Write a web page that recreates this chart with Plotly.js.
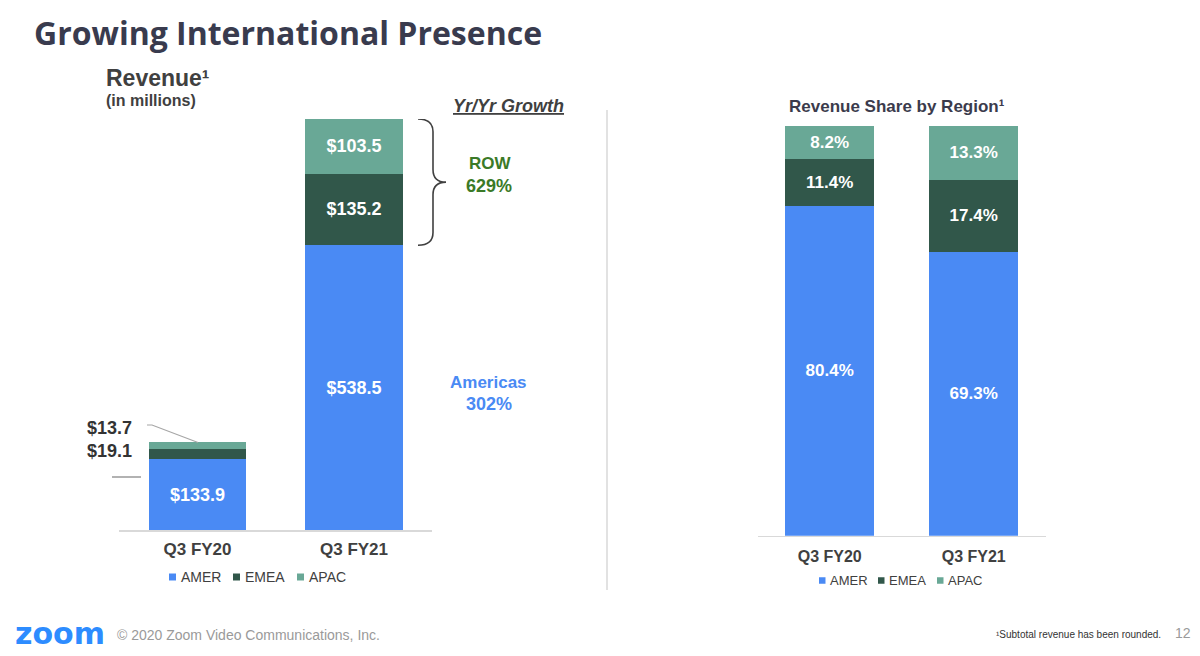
<!DOCTYPE html>
<html>
<head>
<meta charset="utf-8">
<script src="https://cdn.plot.ly/plotly-3.0.1.min.js"></script>
<style>html,body{margin:0;padding:0;background:#fff;}#chart{width:1200px;height:656px;}</style>
</head>
<body>
<div id="chart"></div>
<script>
// ---- data ----
const categories = ['Q3 FY20', 'Q3 FY21'];
const seriesNames = ['AMER', 'EMEA', 'APAC'];
const amerRevenue = [133.9, 538.5];
const emeaRevenue = [19.1, 135.2];
const apacRevenue = [13.7, 103.5];
const amerShare = [80.4, 69.3];
const emeaShare = [11.4, 17.4];
const apacShare = [8.2, 13.3];
const growthRow = '629%';
const growthAmericas = '302%';

// ---- styles ----
const colors = {AMER: '#4a8af4', EMEA: '#31574a', APAC: '#69a896'};
const FONT = 'Liberation Sans, Arial, Helvetica, sans-serif';
const W = 1200, H = 656;
const px = x => x / W;
const py = y => 1 - y / H;

const totals = categories.map((c, i) => amerRevenue[i] + emeaRevenue[i] + apacRevenue[i]);
const maxTotal = Math.max(...totals);

const revLabel = v => '$' + v.toFixed(1);
const shareLabel = v => v.toFixed(1) + '%';

const revSeries = [amerRevenue, emeaRevenue, apacRevenue];
const shareSeries = [amerShare, emeaShare, apacShare];

const traces = [];
seriesNames.forEach((name, k) => {
  traces.push({
    type: 'bar', name: name, x: categories, y: revSeries[k],
    xaxis: 'x', yaxis: 'y',
    marker: {color: colors[name], line: {width: 0}},
    text: revSeries[k].map(revLabel),
    textposition: revSeries[k].map(v => (v >= 50 ? 'inside' : 'none')),
    insidetextanchor: 'middle', constraintext: 'none',
    textfont: {family: FONT, size: 18, color: '#ffffff', weight: 'bold'},
    hoverinfo: 'skip', showlegend: false
  });
});
seriesNames.forEach((name, k) => {
  traces.push({
    type: 'bar', name: name, x: categories, y: shareSeries[k],
    xaxis: 'x2', yaxis: 'y2',
    marker: {color: colors[name], line: {width: 0}},
    text: shareSeries[k].map(shareLabel),
    textposition: 'inside', insidetextanchor: 'middle', constraintext: 'none',
    textfont: {family: FONT, size: 17, color: '#ffffff', weight: 'bold'},
    hoverinfo: 'skip', showlegend: false
  });
});

function ann(text, x, y, size, o) {
  o = o || {};
  return Object.assign({
    text: text, x: px(x), y: py(y), xref: 'paper', yref: 'paper',
    showarrow: false, xanchor: 'center', yanchor: 'middle',
    font: {family: FONT, size: size, color: o.color || '#404040', weight: o.weight || 'normal', style: o.style || 'normal'}
  }, o.extra || {});
}

const annotations = [
  ann('Growing International Presence', 32, 33, 32, {extra: {xanchor: 'left', font: {family: 'Open Sans, sans-serif', size: 32, color: '#393b4e', weight: 'bold'}}}),
  ann('Revenue¹', 104, 78, 23, {color: '#404040', weight: 'bold', extra: {xanchor: 'left'}}),
  ann('(in millions)', 104, 100, 16, {color: '#404040', weight: 'bold', extra: {xanchor: 'left'}}),
  ann('<u>Yr/Yr Growth</u>', 508, 106, 18, {color: '#404040', weight: 'bold', style: 'italic'}),
  ann('ROW', 490, 163, 17, {color: '#3b7a27', weight: 'bold'}),
  ann(growthRow, 489, 186, 18, {color: '#3b7a27', weight: 'bold'}),
  ann('Americas', 489, 382, 17, {color: colors.AMER, weight: 'bold'}),
  ann(growthAmericas, 489, 404, 18, {color: colors.AMER, weight: 'bold'}),
  ann(revLabel(apacRevenue[0]), 110, 428, 18, {color: '#333333', weight: 'bold'}),
  ann(revLabel(emeaRevenue[0]), 110, 451, 18, {color: '#333333', weight: 'bold'}),
  ann('Revenue Share by Region¹', 897, 107, 17, {color: '#3b3b4c', weight: 'bold'}),
  ann('zoom', 13, 633, 30, {extra: {xanchor: 'left', font: {family: 'DejaVu Sans, sans-serif', size: 30, color: '#2d8cff', weight: 'bold'}}}),
  ann('© 2020 Zoom Video Communications, Inc.', 115, 635, 14, {color: '#9a9a9a', extra: {xanchor: 'left'}}),
  ann('¹Subtotal revenue has been rounded.', 1163, 634, 10, {color: '#333333', extra: {xanchor: 'right'}}),
  ann('12', 1193, 633, 14, {color: '#9a9a9a', extra: {xanchor: 'right'}})
];

// brace spanning non-Americas part of FY21 bar
const yTop = totals[1], yBot = amerRevenue[1], yMid = (yTop + yBot) / 2, k = 24;
const bracePath = [
  'M', px(418), yTop,
  'Q', px(433), yTop, px(433), yTop - k,
  'L', px(433), yMid + k,
  'Q', px(433), yMid, px(446), yMid,
  'Q', px(433), yMid, px(433), yMid - k,
  'L', px(433), yBot + k,
  'Q', px(433), yBot, px(418), yBot
].join(' ');

const shapes = [
  {type: 'line', xref: 'paper', yref: 'paper', x0: px(607), x1: px(607), y0: py(110), y1: py(590), line: {color: '#d9d9d9', width: 1.5}},
  {type: 'path', xref: 'paper', yref: 'y', path: bracePath, line: {color: '#404040', width: 1.6}},
  {type: 'path', xref: 'paper', yref: 'paper', path: 'M ' + px(147) + ' ' + py(425) + ' L ' + px(152) + ' ' + py(425) + ' L ' + px(198) + ' ' + py(442.5), line: {color: '#a6a6a6', width: 1.2}},
  {type: 'line', xref: 'paper', yref: 'paper', x0: px(112), x1: px(141), y0: py(477), y1: py(477), line: {color: '#7f7f7f', width: 1.2}}
];

// custom legends (square swatch + label)
const legendLeft = {xs: [169, 233, 297], y: 577, size: 7, font: 14};
const legendRight = {xs: [819, 878, 937], y: 580.5, size: 6.5, font: 13};
[legendLeft, legendRight].forEach(L => {
  seriesNames.forEach((name, i) => {
    const x0 = L.xs[i];
    shapes.push({type: 'rect', xref: 'paper', yref: 'paper',
      x0: px(x0), x1: px(x0 + L.size), y0: py(L.y - L.size / 2), y1: py(L.y + L.size / 2),
      fillcolor: colors[name], line: {width: 0}});
    annotations.push(ann(name, x0 + L.size + 2.5, L.y, L.font, {color: '#404040', extra: {xanchor: 'left'}}));
  });
});

const axisX = {
  type: 'category', range: [-0.5, 1.5], showgrid: false, zeroline: false,
  showline: true, linecolor: '#d9d9d9', linewidth: 1.5, ticks: '',
  tickfont: {family: FONT, size: 17, color: '#404040', weight: 'bold'}, fixedrange: true
};
const axisY = {showgrid: false, zeroline: false, showline: false, showticklabels: false, ticks: '', fixedrange: true};

const layout = {
  width: W, height: H,
  margin: {l: 0, r: 0, t: 0, b: 0},
  paper_bgcolor: '#ffffff', plot_bgcolor: '#ffffff',
  barmode: 'stack', bargap: 0.38,
  showlegend: false,
  xaxis: Object.assign({}, axisX, {domain: [px(119.25), px(432.25)], anchor: 'y', ticklabelstandoff: 3}),
  yaxis: Object.assign({}, axisY, {domain: [py(530), py(119)], range: [0, maxTotal], anchor: 'x'}),
  xaxis2: Object.assign({}, axisX, {domain: [px(757.7), px(1045.7)], anchor: 'y2', ticklabelstandoff: 6, tickfont: {family: FONT, size: 16, color: '#404040', weight: 'bold'}}),
  yaxis2: Object.assign({}, axisY, {domain: [py(535.7), py(125.7)], range: [0, 100], anchor: 'x2'}),
  annotations: annotations,
  shapes: shapes,
  font: {family: FONT}
};

Plotly.newPlot('chart', traces, layout, {displayModeBar: false, staticPlot: true});
</script>
</body>
</html>
